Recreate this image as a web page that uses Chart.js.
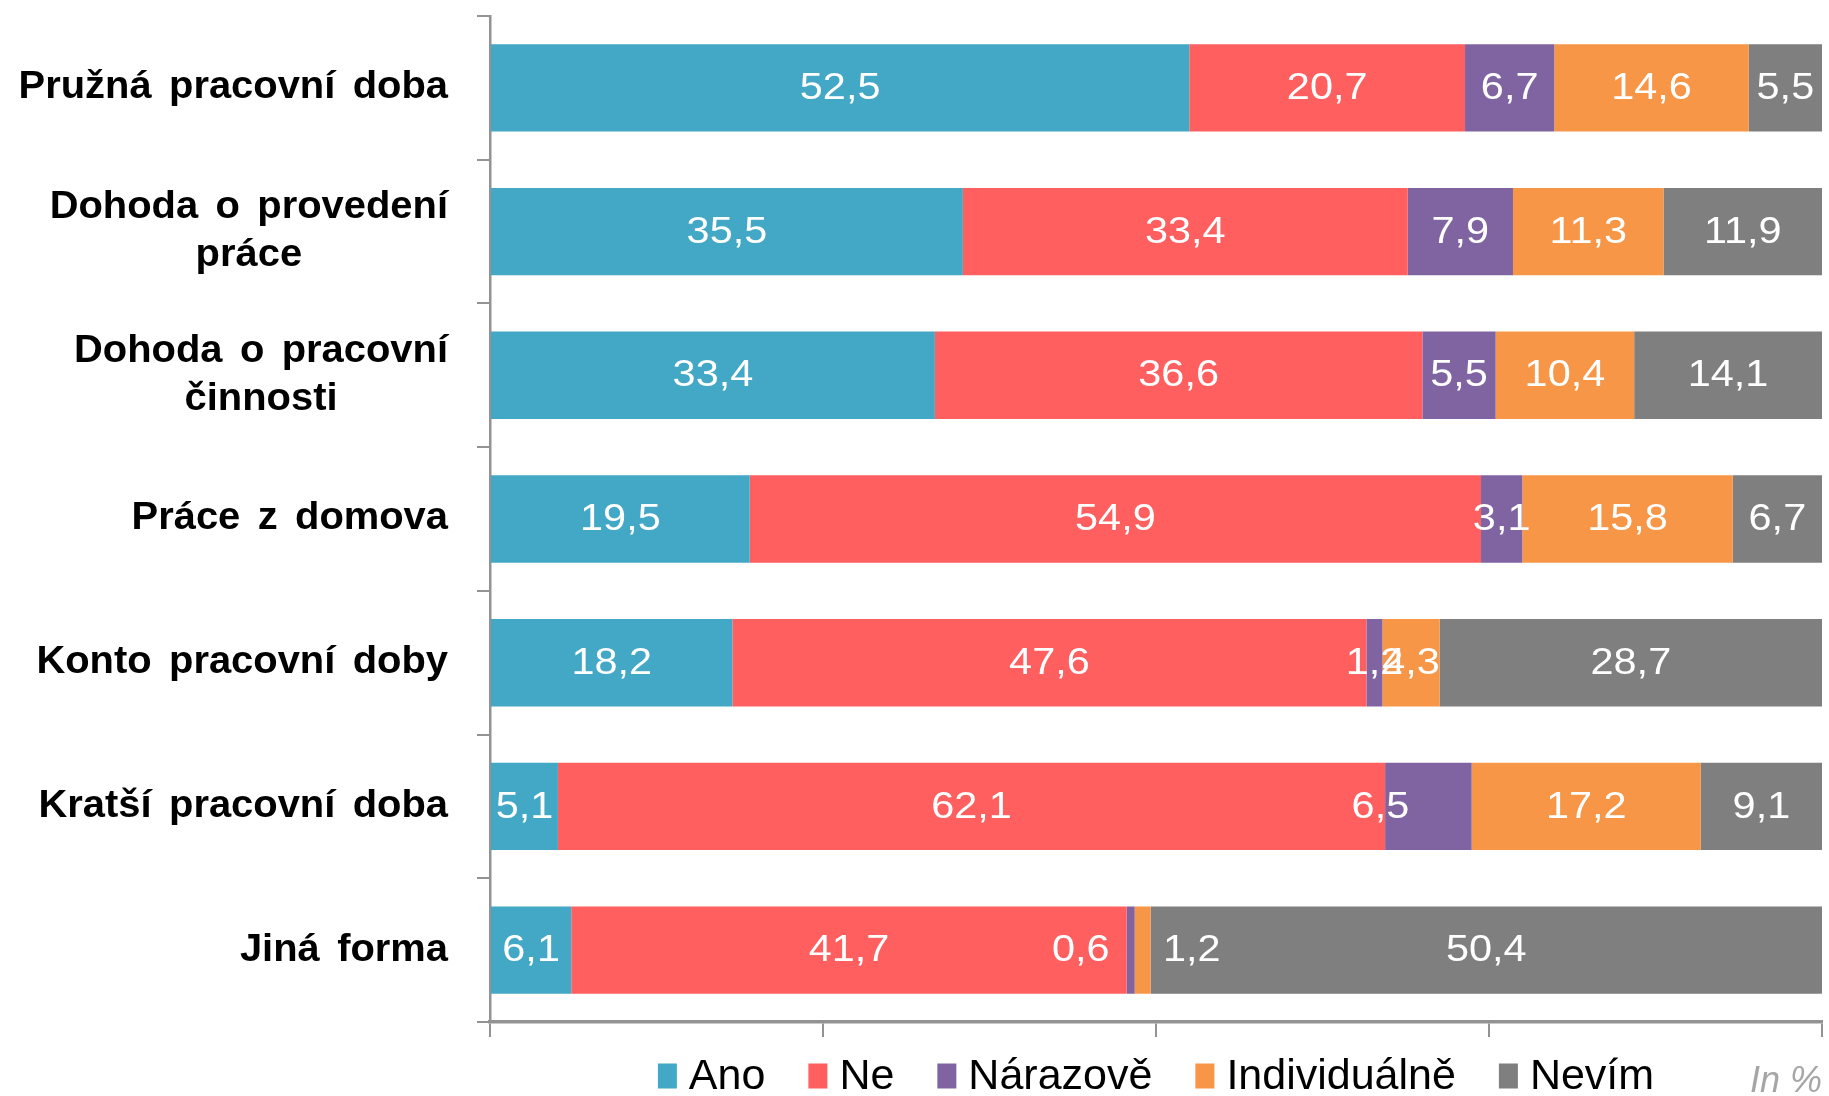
<!DOCTYPE html>
<html>
<head>
<meta charset="utf-8">
<script src="https://cdn.jsdelivr.net/npm/chart.js@4"></script>
<style>
  html, body { margin: 0; padding: 0; background: #fff; }
  #wrap { width: 1829px; height: 1096px; position: relative; }
</style>
</head>
<body>
<div id="wrap"><canvas id="chart"></canvas></div>
<script>
// categories (top to bottom)
var categories = [
    'Pružná pracovní doba',
    ['Dohoda o provedení', 'práce'],
    ['Dohoda o pracovní', 'činnosti'],
    'Práce z domova',
    'Konto pracovní doby',
    'Kratší pracovní doba',
    'Jiná forma'
];

// series values, in %
var ano          = [52.5, 35.5, 33.4, 19.5, 18.2,  5.1,  6.1];
var ne           = [20.7, 33.4, 36.6, 54.9, 47.6, 62.1, 41.7];
var narazove     = [ 6.7,  7.9,  5.5,  3.1,  1.2,  6.5,  0.6];
var individualne = [14.6, 11.3, 10.4, 15.8,  4.3, 17.2,  1.2];
var nevim        = [ 5.5, 11.9, 14.1,  6.7, 28.7,  9.1, 50.4];

var xTicks = [0, 25, 50, 75, 100];

var axisGray = '#939393';
var fontFamily = '"Liberation Sans", Arial, sans-serif';

// a few value labels sit beside their thin segments in the original (px shift)
var labelShift = { '2-5': -48, '2-6': -50, '3-6': 49 };

// text drawn slightly stretched sideways, like the original export
function stretchedText(ctx, text, x, y, sx) {
    ctx.save();
    ctx.translate(x, y);
    ctx.scale(sx, 1);
    ctx.fillText(text, 0, 0);
    ctx.restore();
}

var valueLabels = {
    id: 'valueLabels',
    afterDatasetsDraw: function (chart) {
        var ctx = chart.ctx;
        ctx.save();
        ctx.font = '37px ' + fontFamily;
        ctx.fillStyle = '#ffffff';
        ctx.textAlign = 'center';
        ctx.textBaseline = 'middle';
        chart.data.datasets.forEach(function (ds, di) {
            chart.getDatasetMeta(di).data.forEach(function (bar, i) {
                var x = (bar.x + bar.base) / 2 + (labelShift[di + '-' + i] || 0);
                stretchedText(ctx, ds.data[i].toFixed(1).replace('.', ','), x, bar.y + 1, 1.12);
            });
        });
        ctx.restore();
    }
};

var categoryLabels = {
    id: 'categoryLabels',
    afterDraw: function (chart) {
        var ctx = chart.ctx;
        var yScale = chart.scales.y;
        var right = chart.chartArea.left - 42;
        var sx = 1.05;
        ctx.save();
        ctx.font = 'bold 38px ' + fontFamily;
        ctx.fillStyle = '#000000';
        ctx.textAlign = 'center';
        ctx.textBaseline = 'middle';
        if ('wordSpacing' in ctx) ctx.wordSpacing = '6px';
        var lineH = 48;
        categories.forEach(function (label, i) {
            var lines = Array.isArray(label) ? label : [label];
            var w = 0;
            lines.forEach(function (l) { w = Math.max(w, ctx.measureText(l).width * sx); });
            var cx = right - w / 2;
            var y0 = yScale.getPixelForValue(i) - (lines.length - 1) * lineH / 2;
            lines.forEach(function (l, k) { stretchedText(ctx, l, cx, y0 + k * lineH, sx); });
        });
        ctx.restore();
    }
};

// legend row below the axis, centred on the plot area
var bottomLegend = {
    id: 'bottomLegend',
    afterDraw: function (chart) {
        var ctx = chart.ctx;
        var area = chart.chartArea;
        var boxW = 19, boxH = 25, boxGap = 12, itemGap = 43, midY = 1076;
        ctx.save();
        ctx.font = '43px ' + fontFamily;
        ctx.textBaseline = 'middle';
        ctx.textAlign = 'left';
        if ('wordSpacing' in ctx) ctx.wordSpacing = '0px';
        var items = chart.data.datasets.map(function (ds) {
            return { text: ds.label, color: ds.backgroundColor, w: ctx.measureText(ds.label).width };
        });
        var total = 0;
        items.forEach(function (it, k) {
            total += boxW + boxGap + it.w + (k < items.length - 1 ? itemGap : 0);
        });
        var x = (area.left + area.right) / 2 - total / 2;
        items.forEach(function (it) {
            ctx.fillStyle = it.color;
            ctx.fillRect(x, midY - boxH / 2, boxW, boxH);
            x += boxW + boxGap;
            ctx.fillStyle = '#000000';
            ctx.fillText(it.text, x, midY + 1);
            x += it.w + itemGap;
        });
        // unit note
        ctx.font = 'italic 36px ' + fontFamily;
        ctx.fillStyle = '#a6a6a6';
        ctx.textAlign = 'right';
        ctx.textBaseline = 'alphabetic';
        ctx.fillText('In %', area.right, 1092);
        ctx.restore();
    }
};

var ctx = document.getElementById('chart').getContext('2d');

var chart = new Chart(ctx, {
    type: 'bar',
    data: {
        labels: categories,
        datasets: [
            { label: 'Ano',          data: ano,          backgroundColor: '#43a7c6' },
            { label: 'Ne',           data: ne,           backgroundColor: '#ff5f5f' },
            { label: 'Nárazově',     data: narazove,     backgroundColor: '#8064a2' },
            { label: 'Individuálně', data: individualne, backgroundColor: '#f79646' },
            { label: 'Nevím',        data: nevim,        backgroundColor: '#7f7f7f' }
        ]
    },
    options: {
        indexAxis: 'y',
        responsive: true,
        maintainAspectRatio: false,
        animation: false,
        barPercentage: 0.608,
        categoryPercentage: 1,
        layout: { padding: { top: 16, left: 477, right: 7, bottom: 59 } },
        scales: {
            x: {
                stacked: true,
                min: 0,
                max: 100,
                afterBuildTicks: function (scale) {
                    scale.ticks = xTicks.map(function (v) { return { value: v }; });
                },
                ticks: { display: false },
                grid: { drawOnChartArea: false, tickLength: 15, color: axisGray, lineWidth: 2 },
                border: { color: axisGray, width: 3.5 }
            },
            y: {
                stacked: true,
                ticks: { display: false },
                grid: { drawOnChartArea: false, tickLength: 13, color: axisGray, lineWidth: 2, offset: true },
                border: { color: axisGray, width: 2.5 }
            }
        },
        plugins: {
            legend: { display: false },
            tooltip: { enabled: false }
        }
    },
    plugins: [valueLabels, categoryLabels, bottomLegend]
});
</script>
</body>
</html>
